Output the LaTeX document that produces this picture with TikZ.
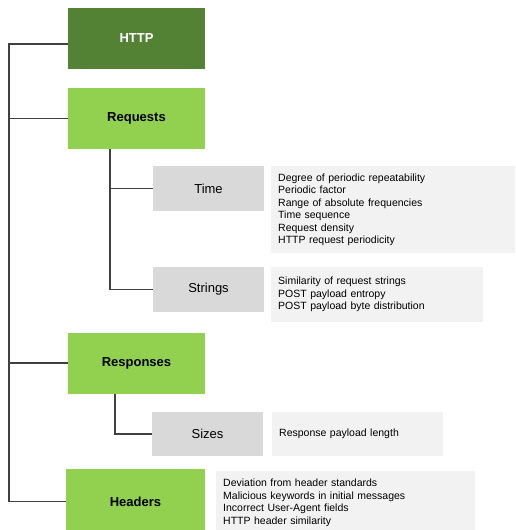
\documentclass[tikz,border=0pt]{standalone}
\usepackage{fontspec}
\setmainfont{Liberation Sans}
\definecolor{hijautua}{HTML}{548235}
\definecolor{hijau}{HTML}{92D050}
\definecolor{abu}{HTML}{D9D9D9}
\definecolor{abumuda}{HTML}{F2F2F2}
\definecolor{garisabu}{HTML}{404040}
\begin{document}
\begin{tikzpicture}[x=1pt, y=-1pt,
    garis/.style={draw=garisabu, line width=1.2pt},
    utama/.style={fill=hijau, inner sep=0, minimum width=137, minimum height=61,
        font=\fontsize{13}{15}\selectfont\bfseries},
    sub/.style={fill=abu, inner sep=0, minimum width=111, minimum height=45,
        font=\fontsize{13}{15}\selectfont},
    ket/.style={fill=abumuda, anchor=north west, inner xsep=7, inner ysep=0,
        align=left, font=\fontsize{10.5}{12.5}\selectfont}]

\clip (0,0) rectangle (515,530);
\useasboundingbox (0,0) rectangle (515,530);

% kotak utama
\node[utama, fill=hijautua, text=white] (http) at (136.5,38.5) {HTTP};
\node[utama] (requests) at (136.5,118.5) {Requests};
\node[utama] (responses) at (136.5,363) {Responses};
\node[utama, minimum width=139, minimum height=65] (headers) at (135.5,501.5) {Headers};

% kotak fitur
\node[sub] (time) at (208.5,188.5) {Time};
\node[sub] (strings) at (208.5,289.5) {Strings};
\node[sub, minimum height=44] (sizes) at (207.5,434) {Sizes};

% keterangan
\node[ket, text width=230, minimum height=87] (ktime) at (271,166) {Degree of periodic repeatability\\
    Periodic factor\\ Range of absolute frequencies\\ Time sequence\\ Request density\\
    HTTP request periodicity};
\node[ket, text width=198, minimum height=55] (kstrings) at (271,267) {Similarity of request strings\\
    POST payload entropy\\ POST payload byte distribution};
\node[ket, text width=157, minimum height=44] (ksizes) at (272,412) {Response payload length};
\node[ket, text width=245, minimum height=63] (kheaders) at (216,471) {Deviation from header standards\\
    Malicious keywords in initial messages\\ Incorrect User-Agent fields\\ HTTP header similarity};

% garis pohon kiri
\coordinate (akar) at (9,44);
\draw[garis] (http.west |- akar) -- (akar) |- (headers.west);
\foreach \n in {requests,responses} {
    \draw[garis] (akar |- \n.west) -- (\n.west);
}

% cabang requests
\coordinate (cab1) at ([xshift=-26.5pt]requests.south);
\draw[garis] (cab1) |- (strings.west);
\draw[garis] (cab1 |- time.west) -- (time.west);

% cabang responses
\coordinate (cab2) at ([xshift=-21.5pt]responses.south);
\draw[garis] (cab2) |- (sizes.west);

\end{tikzpicture}
\end{document}
